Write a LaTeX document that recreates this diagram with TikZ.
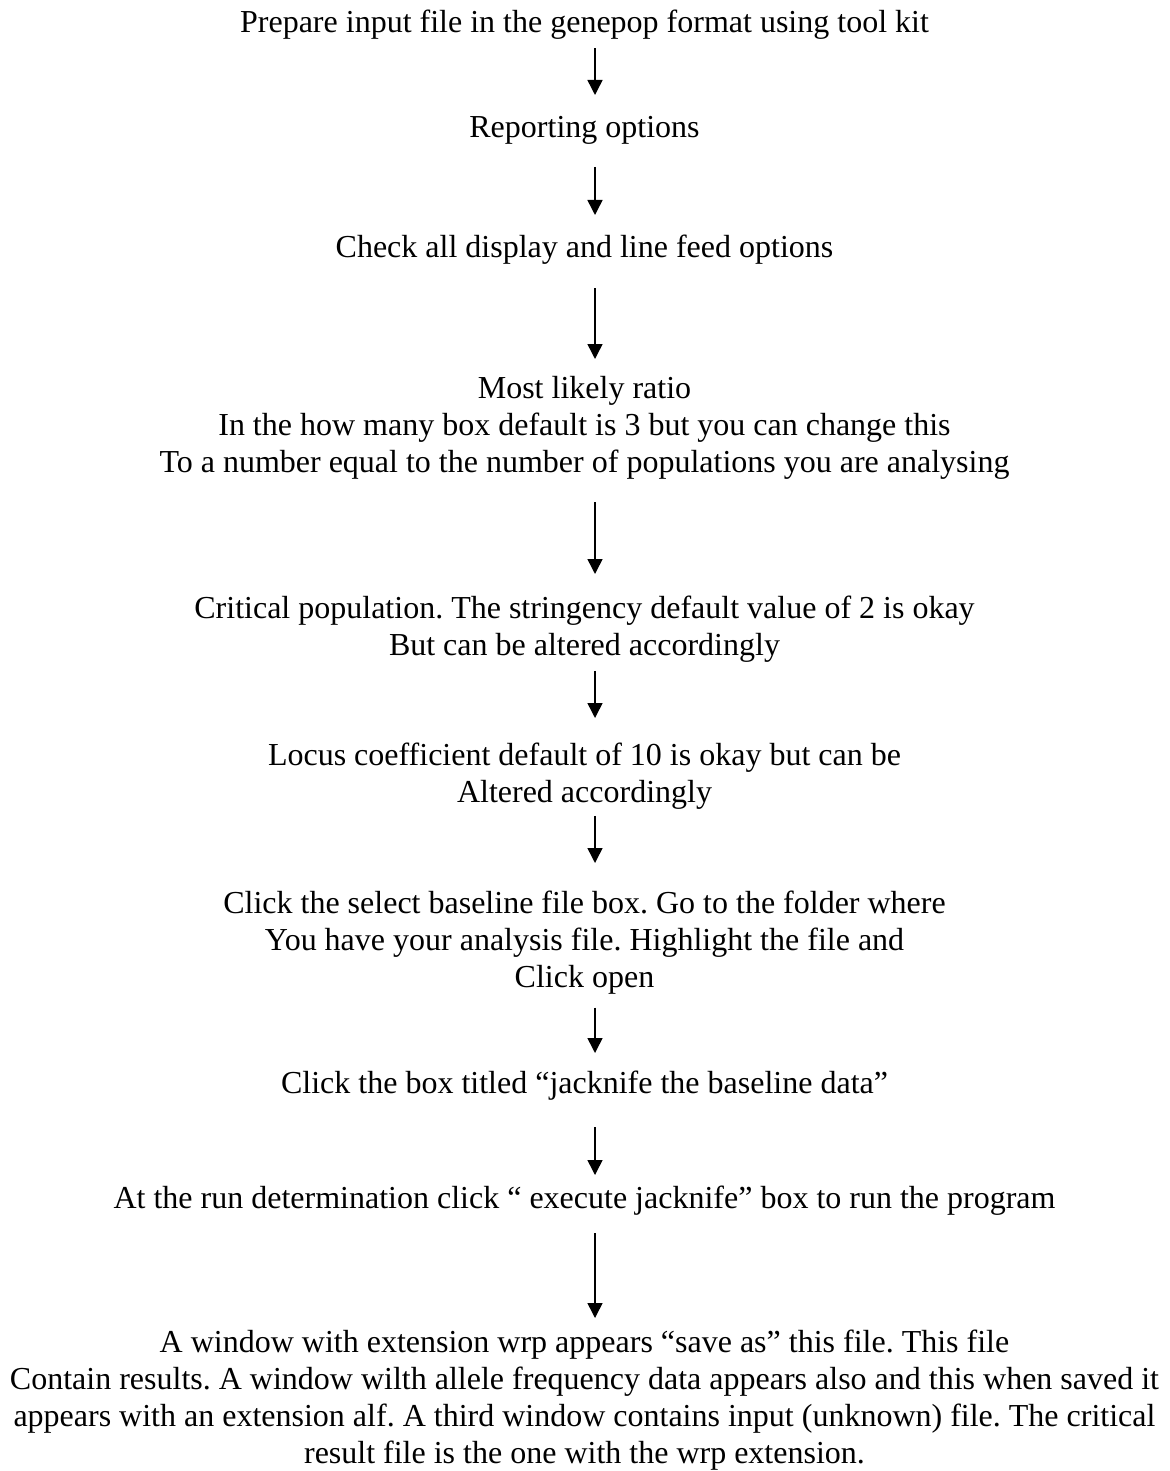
\documentclass[tikz,border=0pt]{standalone}
\usepackage{fontspec}
\setmainfont{Liberation Serif}
\usetikzlibrary{arrows.meta}
\frenchspacing

\begin{document}
\begin{tikzpicture}[x=0.5pt, y=-0.5pt, >={Triangle[width=7.5pt,length=7.5pt]},
    stage/.style={anchor=north, inner sep=0pt, align=center, font=\fontsize{16}{18.35}\selectfont},
    flow/.style 2 args={->, line width=0.75pt, shorten <=#1, shorten >=#2}]

    \useasboundingbox (0,0) rectangle (1169,1471);
    \coordinate (axis) at (595,0);

    \node[stage] (prep) at (584.5,10) {Prepare input file in the genepop format using tool kit};
    \node[stage] (report) at (584.5,116) {Reporting options};
    \node[stage] (display) at (584.5,235) {Check all display and line feed options};
    \node[stage] (ratio) at (584.5,376) {Most likely ratio\\In the how many box default is 3 but you can change this\\To a number equal to the number of populations you are analysing};
    \node[stage] (critical) at (584.5,596) {Critical population. The stringency default value of 2 is okay\\But can be altered accordingly};
    \node[stage] (locus) at (584.5,743) {Locus coefficient default of 10 is okay but can be\\Altered accordingly};
    \node[stage] (baseline) at (584.5,891) {Click the select baseline file box. Go to the folder where\\You have your analysis file. Highlight the file and\\Click open};
    \node[stage] (jackbox) at (584.5,1071) {Click the box titled “jacknife the baseline data”};
    \node[stage] (run) at (584.5,1186) {At the run determination click “ execute jacknife” box to run the program};
    \node[stage] (results) at (584.5,1330) {A window with extension wrp appears “save as” this file. This file\\Contain results. A window wilth allele frequency data appears also and this when saved it\\appears with an extension alf. A third window contains input (unknown) file. The critical\\result file is the one with the wrp extension.};

    % Steps
    \draw[flow={4pt}{10.5pt}] (prep.south -| axis) -- (report.north -| axis);
    \draw[flow={11pt}{10pt}] (report.south -| axis) -- (display.north -| axis);
    \draw[flow={11.5pt}{8.5pt}] (display.south -| axis) -- (ratio.north -| axis);
    \draw[flow={11.5pt}{11pt}] (ratio.south -| axis) -- (critical.north -| axis);
    \draw[flow={4pt}{12.5pt}] (critical.south -| axis) -- (locus.north -| axis);
    \draw[flow={3pt}{14pt}] (locus.south -| axis) -- (baseline.north -| axis);
    \draw[flow={6.5pt}{9pt}] (baseline.south -| axis) -- (jackbox.north -| axis);
    \draw[flow={13pt}{5.5pt}] (jackbox.south -| axis) -- (run.north -| axis);
    \draw[flow={8.5pt}{6pt}] (run.south -| axis) -- (results.north -| axis);
\end{tikzpicture}
\end{document}
